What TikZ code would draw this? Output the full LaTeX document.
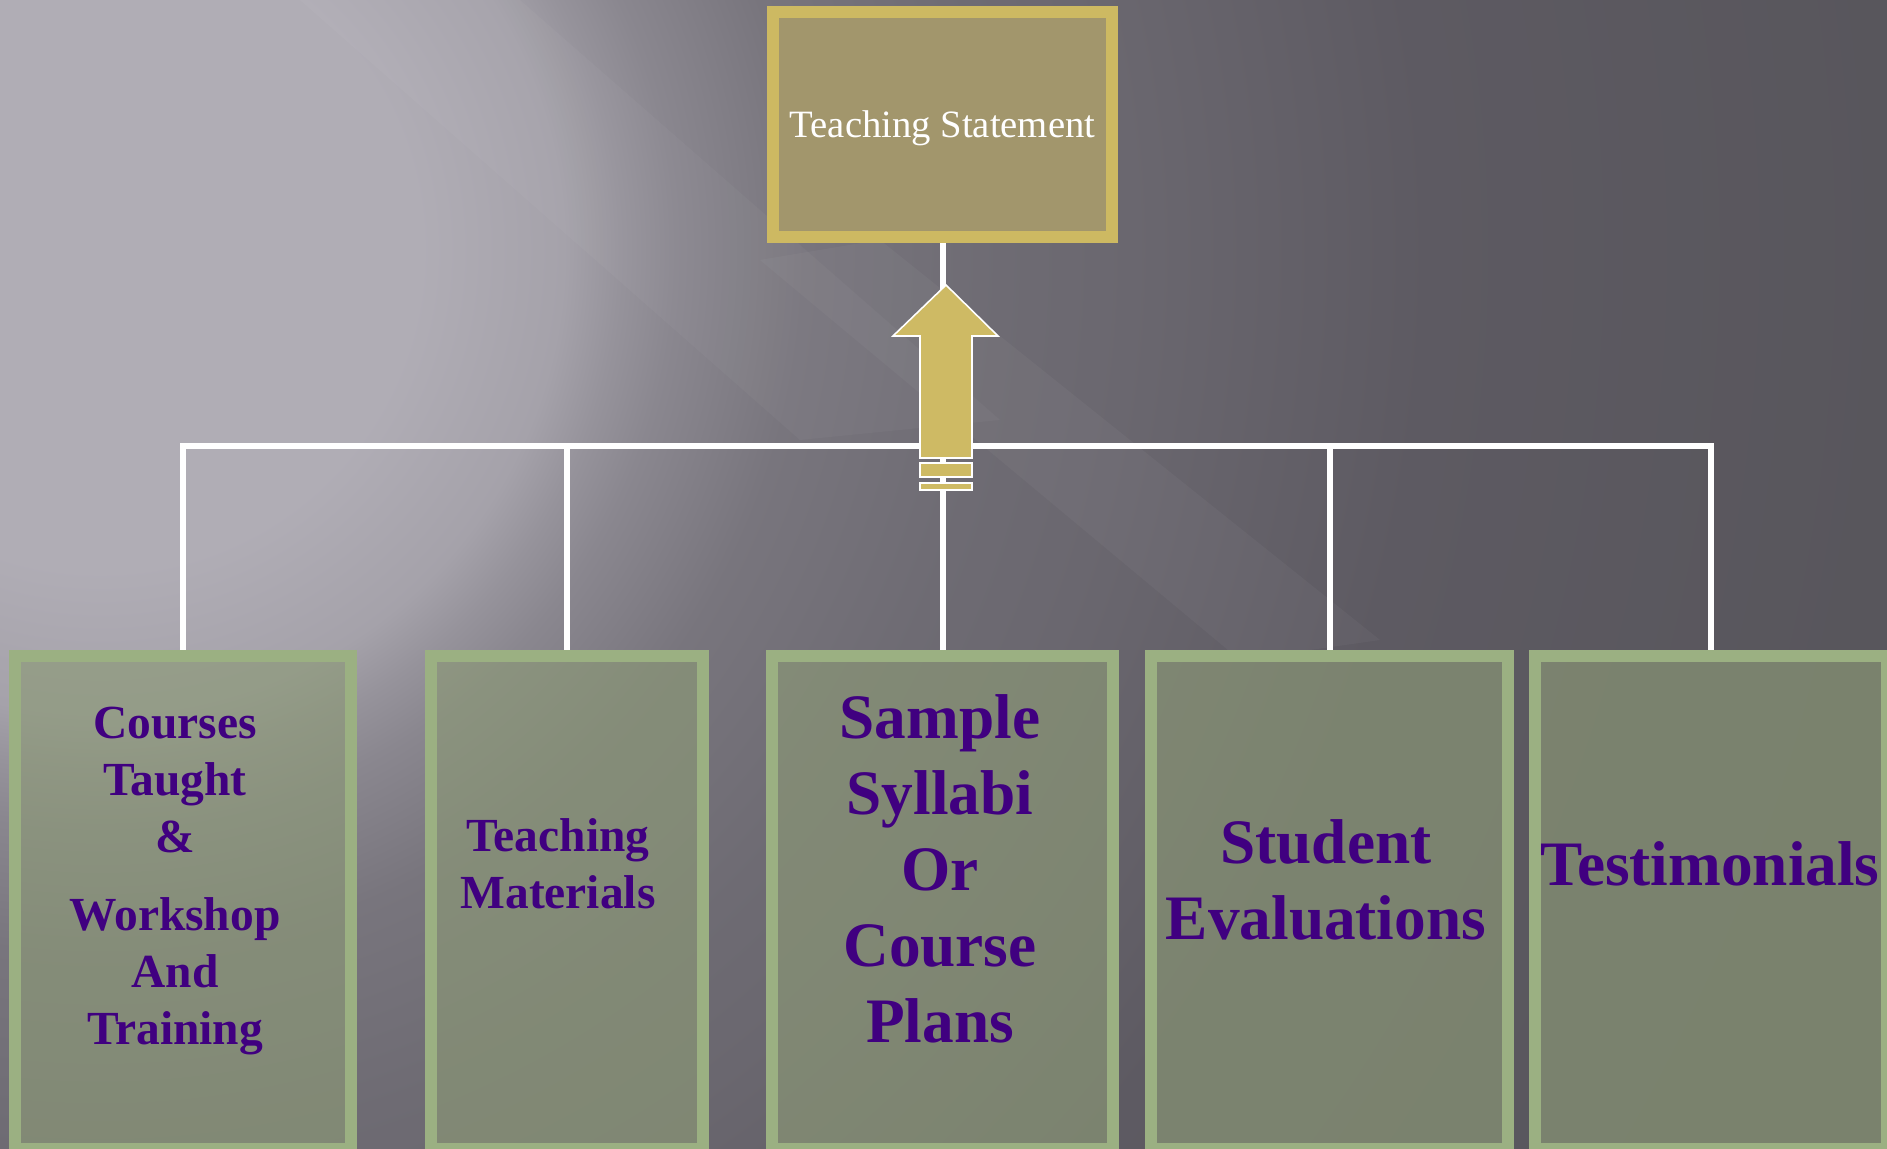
\documentclass[tikz,border=0pt]{standalone}
\usepackage{fontspec}
\setmainfont{Liberation Serif}

\definecolor{goldline}{RGB}{205,185,98}
\definecolor{goldfill}{RGB}{162,150,108}
\definecolor{arrowgold}{RGB}{206,186,100}
\definecolor{greenline}{RGB}{155,176,130}
\definecolor{greenfill}{RGB}{140,153,119}
\definecolor{itempurple}{RGB}{64,0,128}

% glow of the slide background, light in the upper left
\pgfdeclareradialshading{backglow}{\pgfpoint{0bp}{0bp}}{%
  rgb(0bp)=(.690,.678,.710);
  rgb(4bp)=(.690,.678,.710);
  rgb(5.8bp)=(.647,.635,.667);
  rgb(6.5bp)=(.588,.576,.608);
  rgb(7.2bp)=(.541,.529,.561);
  rgb(8.8bp)=(.471,.459,.490);
  rgb(11.25bp)=(.431,.420,.451);
  rgb(12.9bp)=(.416,.404,.435);
  rgb(16.6bp)=(.365,.353,.384);
  rgb(22.5bp)=(.345,.337,.361);
  rgb(50bp)=(.345,.337,.361)}

\tikzset{
  topbox/.style={draw=goldline, fill=goldfill, line width=0.12cm,
    minimum width=3.39cm, minimum height=2.25cm, text=white, text depth=0pt,
    font=\fontsize{11}{13}\selectfont},
  itembox/.style={draw=greenline, fill=greenfill, fill opacity=0.66,
    draw opacity=1, line width=0.12cm, minimum height=4.93cm},
  itemtext/.style={text=itempurple, align=center, inner sep=0pt},
  smalltext/.style={itemtext, font=\bfseries\fontsize{13.5}{16.2}\selectfont},
  bigtext/.style={itemtext, font=\bfseries\fontsize{18}{21.6}\selectfont},
  conn/.style={draw=white, line width=0.06cm},
  arrowpart/.style={draw=white, line width=0.45pt, fill=arrowgold}
}

\begin{document}
\begin{tikzpicture}[x=0.01cm,y=-0.01cm]
\useasboundingbox (0,0) rectangle (1887,1149);
\clip (0,0) rectangle (1887,1149);
% background
\shade[shading=backglow] (-1900,-1750) rectangle (2100,2250);
\fill[white, fill opacity=0.035] (760,260) -- (880,240) -- (1380,640) -- (1240,660) -- cycle;
\fill[white, fill opacity=0.03] (300,0) -- (520,0) -- (1000,420) -- (800,440) -- cycle;

% boxes
\node[topbox] (stmt) at (942.5,124.5) {Teaching Statement};
\node[itembox, minimum width=3.36cm] (b1) at (183,902.5) {};
\node[itembox, minimum width=2.72cm] (b2) at (567,902.5) {};
\node[itembox, minimum width=3.40cm] (b3) at (942.5,902.5) {};
\node[itembox, minimum width=3.57cm] (b4) at (1329.5,902.5) {};
\node[itembox, minimum width=3.52cm] (b5) at (1711,902.5) {};

% texts
\node[smalltext] (t1) at (175,881) {Courses\\Taught\\\&\\[6pt]Workshop\\And\\Training};
\node[smalltext] (t2) at (558,864) {Teaching\\Materials};
\node[bigtext] (t3) at (940,869) {Sample\\Syllabi\\Or\\Course\\Plans};
\node[bigtext] (t4) at (1326,880) {Student\\Evaluations};
\node[bigtext] (t5) at (1710,864) {Testimonials};

% connectors
\coordinate (hub) at (942.5,446);
\draw[conn] (stmt.south) -- (hub) -- (b3.north);
\foreach \b in {b1,b2,b4,b5}
  \draw[conn] (\b.north) |- (hub);

% arrow
\draw[arrowpart] (946,285) -- (998,336) -- (972,336) -- (972,458)
  -- (920,458) -- (920,336) -- (893,336) -- cycle;
\draw[arrowpart] (920,463) rectangle (972,477);
\draw[arrowpart] (920,483) rectangle (972,490);
\end{tikzpicture}
\end{document}
